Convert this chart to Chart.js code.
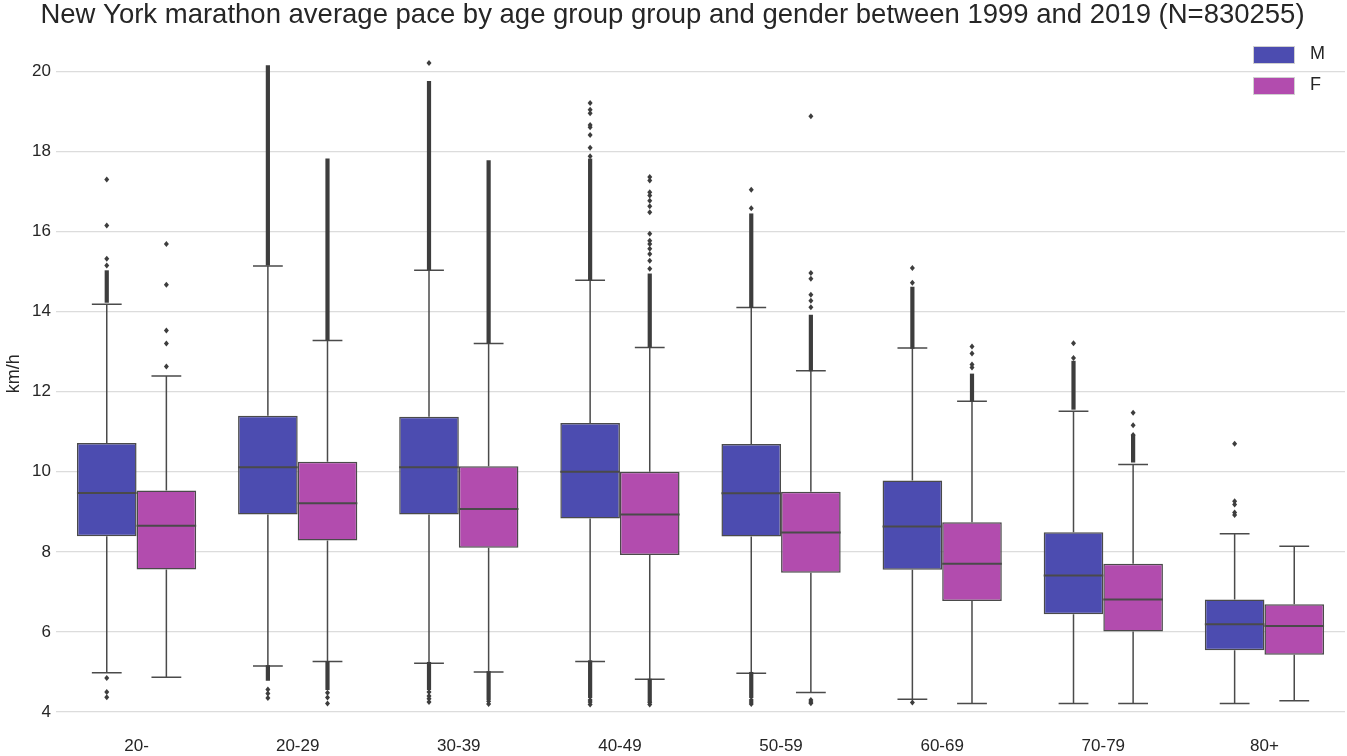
<!DOCTYPE html>
<html>
<head>
<meta charset="utf-8">
<script src="https://cdn.jsdelivr.net/npm/chart.js@4/dist/chart.umd.min.js"></script>
<style>
  body { margin:0; background:#fff; font-family:"Liberation Sans", Arial, sans-serif; }
  #wrap { position:relative; width:1347px; height:756px; }
  .legend { position:absolute; left:1253px; color:#262626; font-size:18px; }
  .legend span.sw { position:absolute; left:0; top:0; width:40px; height:16px; border:1px solid #d0d0d0; }
  .legend span.tx { position:absolute; left:57px; top:-3px; }
</style>
</head>
<body>
<div id="wrap">
  <canvas id="boxChart"></canvas>
  <div class="legend" style="top:46px"><span class="sw" style="background:#4c4cb0"></span><span class="tx">M</span></div>
  <div class="legend" style="top:77px"><span class="sw" style="background:#b24cae"></span><span class="tx">F</span></div>
</div>
<script>
/*
=================================
DATA
=================================
*/

const ageGroups = ["20-", "20-29", "30-39", "40-49", "50-59", "60-69", "70-79", "80+"];

// men
const mQ1     = [8.39, 8.93, 8.93, 8.83, 8.38, 7.55, 6.44, 5.54];
const mMedian = [9.47, 10.11, 10.11, 10.00, 9.46, 8.63, 7.41, 6.19];
const mQ3     = [10.72, 11.40, 11.37, 11.22, 10.69, 9.78, 8.49, 6.81];
const mLow    = [4.98, 5.15, 5.22, 5.26, 4.97, 4.32, 4.21, 4.21];
const mHigh   = [14.18, 15.14, 15.03, 14.78, 14.10, 13.09, 11.51, 8.45];

// isolated outliers
const mOutliers = [
    [17.30, 16.15, 15.32, 15.15, 4.85, 4.50, 4.37],
    [4.56, 4.46, 4.35],
    [20.21, 4.50, 4.40, 4.33, 4.25],
    [19.21, 19.04, 18.95, 18.66, 18.60, 18.41, 18.09, 17.88, 4.30, 4.25, 4.19],
    [17.04, 16.58, 4.30, 4.25, 4.20],
    [15.09, 14.72, 4.24],
    [13.21, 12.84],
    [10.70, 9.26, 9.18, 8.98, 8.92]
];

// outlier ranges so dense the markers merge into a line
const mOutlierRuns = [
    [[14.27, 14.98]],
    [[15.20, 20.10], [4.83, 5.12]],
    [[15.08, 19.71], [4.60, 5.20]],
    [[14.82, 17.77], [4.40, 5.24]],
    [[14.14, 16.40], [4.40, 4.95]],
    [[13.12, 14.57]],
    [[11.60, 12.72]],
    []
];

// women
const fQ1     = [7.56, 8.28, 8.10, 7.92, 7.48, 6.77, 6.01, 5.43];
const fMedian = [8.65, 9.21, 9.07, 8.93, 8.48, 7.70, 6.81, 6.15];
const fQ3     = [9.53, 10.25, 10.14, 10.00, 9.50, 8.74, 7.70, 6.69];
const fLow    = [4.87, 5.26, 5.00, 4.82, 4.49, 4.21, 4.21, 4.28];
const fHigh   = [12.39, 13.28, 13.20, 13.10, 12.52, 11.76, 10.18, 8.14];

const fOutliers = [
    [15.69, 14.67, 13.53, 13.20, 12.63],
    [4.48, 4.36, 4.21],
    [4.27, 4.20],
    [17.36, 17.27, 16.98, 16.90, 16.77, 16.63, 16.48, 15.94, 15.77, 15.69, 15.57, 15.44, 15.27, 15.07, 4.24, 4.19],
    [18.88, 14.96, 14.82, 14.42, 14.27, 14.11, 4.30, 4.25, 4.22],
    [13.13, 12.95, 12.68, 12.60],
    [11.47, 11.16, 10.92],
    []
];

const fOutlierRuns = [
    [],
    [[13.33, 17.77], [4.60, 5.22]],
    [[13.25, 17.73], [4.35, 4.97]],
    [[13.15, 14.90], [4.30, 4.78]],
    [[12.56, 13.87]],
    [[11.80, 12.40]],
    [[10.28, 10.87]],
    []
];

const yTicks = [4, 6, 8, 10, 12, 14, 16, 18, 20];

/*
=================================
COLOURS
=================================
*/

const maleColor = "#4c4cb0";
const femaleColor = "#b24cae";
const edgeColor = "#4a4a4a";
const flierColor = "#3d3d3d";
const textColor = "#262626";

/*
=================================
BOX PARTS (whiskers, medians, fliers)
=================================
*/

const boxParts = {

    id: "boxParts",

    afterDatasetsDraw(chart){

        const ctx = chart.ctx;
        const yScale = chart.scales.y;

        chart.data.datasets.forEach((ds, di) => {

            const meta = chart.getDatasetMeta(di);
            const s = ds.stats;

            meta.data.forEach((bar, i) => {

                const x = bar.x;
                const half = bar.width / 2;

                const yQ1 = yScale.getPixelForValue(s.q1[i]);
                const yQ3 = yScale.getPixelForValue(s.q3[i]);
                const yMed = yScale.getPixelForValue(s.median[i]);
                const yLo = yScale.getPixelForValue(s.low[i]);
                const yHi = yScale.getPixelForValue(s.high[i]);

                ctx.save();

                ctx.strokeStyle = edgeColor;
                ctx.lineWidth = 1.5;

                ctx.beginPath();
                // whiskers
                ctx.moveTo(x, yQ3);
                ctx.lineTo(x, yHi);
                ctx.moveTo(x, yQ1);
                ctx.lineTo(x, yLo);
                // caps
                ctx.moveTo(x - half / 2, yHi);
                ctx.lineTo(x + half / 2, yHi);
                ctx.moveTo(x - half / 2, yLo);
                ctx.lineTo(x + half / 2, yLo);
                ctx.stroke();

                // median
                ctx.lineWidth = 2;
                ctx.beginPath();
                ctx.moveTo(x - half, yMed);
                ctx.lineTo(x + half, yMed);
                ctx.stroke();

                // dense outlier runs
                ctx.strokeStyle = flierColor;
                ctx.lineWidth = 4.2;
                s.runs[i].forEach(run => {
                    ctx.beginPath();
                    ctx.moveTo(x, yScale.getPixelForValue(run[0]) + 2);
                    ctx.lineTo(x, yScale.getPixelForValue(run[1]) - 2);
                    ctx.stroke();
                });

                // single outliers (diamonds)
                ctx.fillStyle = flierColor;
                s.fliers[i].forEach(v => {
                    const py = yScale.getPixelForValue(v);
                    ctx.beginPath();
                    ctx.moveTo(x, py - 3);
                    ctx.lineTo(x + 2.5, py);
                    ctx.lineTo(x, py + 3);
                    ctx.lineTo(x - 2.5, py);
                    ctx.closePath();
                    ctx.fill();
                });

                ctx.restore();
            });
        });
    }
};

/*
=================================
CHART
=================================
*/

new Chart(document.getElementById("boxChart"), {

    type: "bar",

    data: {

        labels: ageGroups,

        datasets: [
            {
                label: "M",
                data: mQ1.map((v, i) => [v, mQ3[i]]),
                backgroundColor: maleColor,
                borderColor: edgeColor,
                borderWidth: 1.5,
                borderSkipped: false,
                stats: { q1: mQ1, q3: mQ3, median: mMedian, low: mLow, high: mHigh, fliers: mOutliers, runs: mOutlierRuns }
            },
            {
                label: "F",
                data: fQ1.map((v, i) => [v, fQ3[i]]),
                backgroundColor: femaleColor,
                borderColor: edgeColor,
                borderWidth: 1.5,
                borderSkipped: false,
                stats: { q1: fQ1, q3: fQ3, median: fMedian, low: fLow, high: fHigh, fliers: fOutliers, runs: fOutlierRuns }
            }
        ]
    },

    options: {

        responsive: true,
        maintainAspectRatio: false,
        animation: false,
        categoryPercentage: 0.74,
        barPercentage: 1.0,

        layout: { padding: { left: 0, right: 2, top: 0, bottom: 0 } },

        plugins: {
            legend: { display: false },
            tooltip: { enabled: false },
            title: {
                display: true,
                text: "New York marathon average pace by age group group and gender between 1999 and 2019 (N=830255)",
                color: textColor,
                font: { family: "Liberation Sans", size: 27.5, weight: "normal", lineHeight: 1.1 },
                padding: { top: 0, bottom: 5 }
            }
        },

        scales: {

            x: {
                grid: { display: false, drawTicks: false },
                border: { display: false },
                ticks: {
                    color: textColor,
                    font: { family: "Liberation Sans", size: 17 },
                    padding: 24
                },
                afterFit(scale){ scale.height = 44; }
            },

            y: {
                min: 4,
                max: 20.9,
                grid: { color: "#dcdcdc", lineWidth: 1.3, drawTicks: false },
                border: { display: false },
                ticks: {
                    stepSize: 2,
                    includeBounds: false,
                    color: textColor,
                    font: { family: "Liberation Sans", size: 17 },
                    padding: 5
                },
                afterBuildTicks(scale){
                    scale.ticks = yTicks.map(v => ({ value: v }));
                },
                title: {
                    display: true,
                    text: "km/h",
                    color: textColor,
                    font: { family: "Liberation Sans", size: 18 },
                    padding: { top: 3, bottom: 0 }
                },
                afterFit(scale){ scale.width = 56; }
            }
        }
    },

    plugins: [boxParts]
});
</script>
</body>
</html>
